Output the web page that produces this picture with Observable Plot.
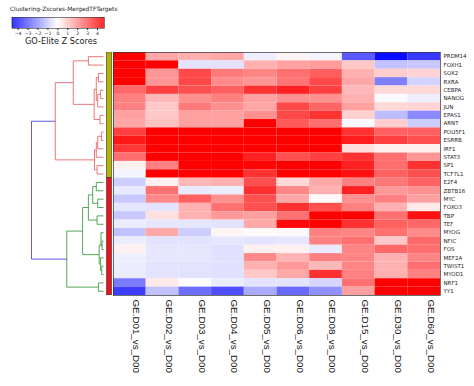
<!DOCTYPE html>
<html><head><meta charset="utf-8">
<script src="https://cdn.jsdelivr.net/npm/d3@7"></script>
<script src="https://cdn.jsdelivr.net/npm/@observablehq/plot@0.6"></script>
<style>
body{margin:0;background:#fff;font-family:"DejaVu Sans",sans-serif;}
#root{position:relative;width:474px;height:386px;overflow:hidden;background:#fff;}
#root > *{position:absolute;}
.ttl{font-size:5.9px;color:#222;white-space:nowrap;}
.lbl{font-size:8.2px;color:#222;white-space:nowrap;}
</style></head><body><div id="root"></div>
<script>
// ---------- data ----------
const genes = ["PRDM14","FOXH1","SOX2","RXRA","CEBPA","NANOG","JUN","EPAS1","ARNT","POU5F1","ESRRB","IRF1","STAT3","SP1","TCF7L1",
  "E2F4","ZBTB16","MYC","FOXO3","TBP","TEF","MYOG","NFIC","FOS","MEF2A","TWIST1","MYOD1","NRF1","YY1"];
const columns = ["GE.D01_vs_D00","GE.D02_vs_D00","GE.D03_vs_D00","GE.D04_vs_D00","GE.D05_vs_D00",
  "GE.D06_vs_D00","GE.D08_vs_D00","GE.D15_vs_D00","GE.D30_vs_D00","GE.D60_vs_D00"];
const zD01 = [5,5,5,5,2.7,2.3,2.3,1.7,1.6,3.45,4.17,3.6,2.6,0.27,-0.2,-0.9,-0.4,-1.0,-0.45,-1.0,-0.35,-1.1,-0.35,0.27,-0.3,-0.35,-0.35,-2.4,-3.5];
const zD02 = [1.6,4.8,1.9,1.9,3.45,1.3,1.0,1.0,1.14,5,5,5,5,2.3,5,0.27,2.58,2.15,-0.5,0.56,-0.45,1.57,-0.5,-0.45,-0.45,-0.5,-0.5,0.41,-1.1];
const zD03 = [1.4,-0.5,3.3,3.3,3.16,2.0,2.4,1.7,1.7,5,5,5,5,5,5,1.28,-0.4,2.87,1.43,1.43,-0.45,-0.9,-0.5,-0.45,-0.45,-0.5,-0.5,-0.05,-2.6];
const zD04 = [1.6,-0.5,2.4,2.1,2.87,2.3,2.0,1.7,1.7,5,5,5,5,5,5,1.43,-0.35,2.0,2.58,1.86,-0.5,0.2,-0.45,-0.55,-0.55,-0.55,-0.55,-0.35,-3.2];
const zD05 = [-0.3,1.4,2.2,1.9,3.7,1.7,1.6,2.0,4.8,5,5,5,4.0,4.5,3.7,3.16,3.73,3.16,3.16,1.71,1.57,0.1,-0.5,0.27,2.15,1.43,0.99,-0.5,-1.5];
const zD06 = [0.2,1.7,2.6,2.5,4.0,2.0,3.3,3.3,3.0,5,5,5,3.16,5,5,0.7,2.15,1.57,3.73,2.58,4.4,0.13,-0.45,0.27,1.35,1.86,1.57,-0.5,-2.7];
const zD08 = [-0.2,1.8,2.9,3.3,3.45,2.0,2.8,3.7,2.6,5,5,5,3.45,5,5,1.57,1.43,0.13,3.16,5,5,2.29,2.29,-0.4,2.29,1.28,3.73,-0.75,-2.0];
const zD15 = [-3.0,1.0,1.4,1.6,1.3,1.4,1.7,0.85,-0.1,3.7,4.1,0.6,3.7,4.0,4.3,2.29,4.0,2.0,2.29,5,3.73,2.2,2.58,2.2,2.2,2.2,2.29,2.58,1.71];
const zD30 = [-4.4,-1.1,0.9,-2.3,0.7,-0.1,0.7,-1.2,0.9,2.87,3.45,0.27,2.6,2.6,2.87,2.44,1.86,2.29,1.43,2.58,2.87,2.58,0.99,2.72,1.43,1.43,1.43,5,5];
const zD60 = [-3.6,-1.0,0.8,-0.8,0.7,-0.3,0.8,-2.1,-0.9,2.87,3.2,0.27,1.9,3.7,3.16,2.87,2.0,1.71,0.41,4.3,2.72,2.1,2.72,2.6,2.2,2.6,2.29,5,5];
const zColumns = [zD01,zD02,zD03,zD04,zD05,zD06,zD08,zD15,zD30,zD60];

// dendrogram linkage (leaf ids 0..28, new nodes numbered 29.. in order)
const mergeLeft   = [0,4,7,30,2,33,34,29,9,37,38,13,39,36,15,17,43,19,45,22,21,25,24,48,47,27,53,42];
const mergeRight  = [1,5,8,6,3,32,31,35,10,11,12,14,40,41,16,18,44,20,46,23,48,26,50,51,52,28,54,55];
const mergeHeight = [2.1,0.4,0.5,0.8,0.7,1.0,1.3,4.2,0.3,0.8,1.0,0.9,1.25,6.7,1.0,0.8,1.5,0.9,2.1,0.2,0.35,0.25,0.4,0.6,2.9,0.7,5.1,10];
const clusterNames = ["top","bottom"];
const clusterStart = [0,15];
const clusterEnd = [15,29];
const clusterBarColors = ["#b5b300","#e8141a"];
const clusterLinkColors = ["#e8686c","#3e9e42"];
const rootLinkColor = "#4b4bd0";
const legendTicks = [-4,-3,-2,-1,0,1,2,3,4];

// ---------- derived tables ----------
const cells = [];
genes.forEach((g,i)=>columns.forEach((c,j)=>cells.push({gene:g,col:c,z:zColumns[j][i]})));

const color = {type:"linear", domain:[-4.6,0,4.6], range:["#0000ff","#ffffff","#ff0000"], interpolate:"rgb", clamp:true};

const n = genes.length;
const pos = d3.range(n).map(i=>i+0.5), hgt = d3.range(n).map(()=>0), clus = genes.map((g,i)=> i < clusterEnd[0] ? 0 : 1);
const segs = [];
mergeLeft.forEach((l,k)=>{
  const r = mergeRight[k], h = mergeHeight[k], id = n+k;
  pos[id] = (pos[l]+pos[r])/2; hgt[id] = h;
  const c = clus[l] === clus[r] ? clus[l] : -1;
  clus[id] = c;
  const col = c < 0 ? rootLinkColor : clusterLinkColors[c];
  segs.push({x1:h,x2:h,y1:pos[l],y2:pos[r],col});
  segs.push({x1:hgt[l],x2:h,y1:pos[l],y2:pos[l],col});
  segs.push({x1:hgt[r],x2:h,y1:pos[r],y2:pos[r],col});
});
const bars = clusterNames.map((nm,i)=>({nm,y1:clusterStart[i],y2:clusterEnd[i],fill:clusterBarColors[i]}));

const root = document.getElementById("root");
function place(el,left,top){el.style.left=left+"px";el.style.top=top+"px";root.appendChild(el);return el;}

// ---------- legend ----------
const t = document.createElement("div"); t.className="ttl"; t.textContent="Clustering-Zscores-MergedTFTargets"; place(t,10,6);
const step = 0.05;
const legendSteps = d3.range(-4.6, 4.7, step);
const leg = Plot.plot({
  width:122, height:19, marginLeft:11.7, marginRight:18, marginTop:0, marginBottom:8,
  x:{domain:[-4.6,4.7], ticks:legendTicks, tickSize:2, tickPadding:1, tickFormat:d=>d<0?"\u2212"+(-d):d},
  y:{axis:null, domain:[0,1]},
  color,
  style:{fontSize:"4.6px", fontFamily:"DejaVu Sans", color:"#222", background:"transparent"},
  marks:[
    Plot.rect(legendSteps,{x1:d=>d, x2:d=>d+step+0.01, y1:0, y2:1, fill:d=>d+step/2}),
    Plot.frame({stroke:"#333", strokeWidth:0.6})
  ]
});
place(leg,0,17);
const l2 = document.createElement("div"); l2.className="lbl"; l2.textContent="GO-Elite Z Scores"; place(l2,25,36);

// ---------- dendrogram ----------
const dendro = Plot.plot({
  width:106, height:243, marginLeft:31, marginRight:3, marginTop:0, marginBottom:0,
  x:{domain:[0,10], reverse:true, axis:null},
  y:{domain:[0,n], reverse:true, axis:null},
  style:{background:"transparent"},
  marks:[Plot.link(segs,{x1:"x1",x2:"x2",y1:"y1",y2:"y2",stroke:"col",strokeWidth:0.9})]
});
place(dendro,0,52);

// ---------- cluster bars ----------
const cbar = Plot.plot({
  width:6, height:243, margin:0,
  x:{domain:[0,1], axis:null},
  y:{domain:[0,n], reverse:true, axis:null},
  style:{background:"transparent"},
  marks:[Plot.rect(bars,{x1:0.08,x2:0.92,y1:"y1",y2:"y2",fill:"fill",stroke:"#333",strokeWidth:0.6})]
});
place(cbar,105.5,52);

// ---------- heatmap ----------
const heat = Plot.plot({
  width:361, height:334, marginLeft:0, marginRight:34, marginTop:0, marginBottom:91,
  x:{domain:columns, padding:0, round:false},
  y:{domain:genes, padding:0, round:false},
  color,
  style:{fontFamily:"DejaVu Sans", color:"#222", background:"transparent"},
  marks:[
    Plot.cell(cells,{x:"col",y:"gene",fill:"z"}),
    Plot.frame({stroke:"#333", strokeWidth:0.7}),
    Plot.axisY({anchor:"right", tickSize:0, tickPadding:3, fontSize:5.5, label:null}),
    Plot.axisX({anchor:"bottom", tickSize:0, tickPadding:4, tickRotate:90, dx:6.5, fontSize:9.8, fontFamily:"Liberation Sans", fill:"#111", label:null})
  ]
});
place(heat,113,52);
</script></body></html>
